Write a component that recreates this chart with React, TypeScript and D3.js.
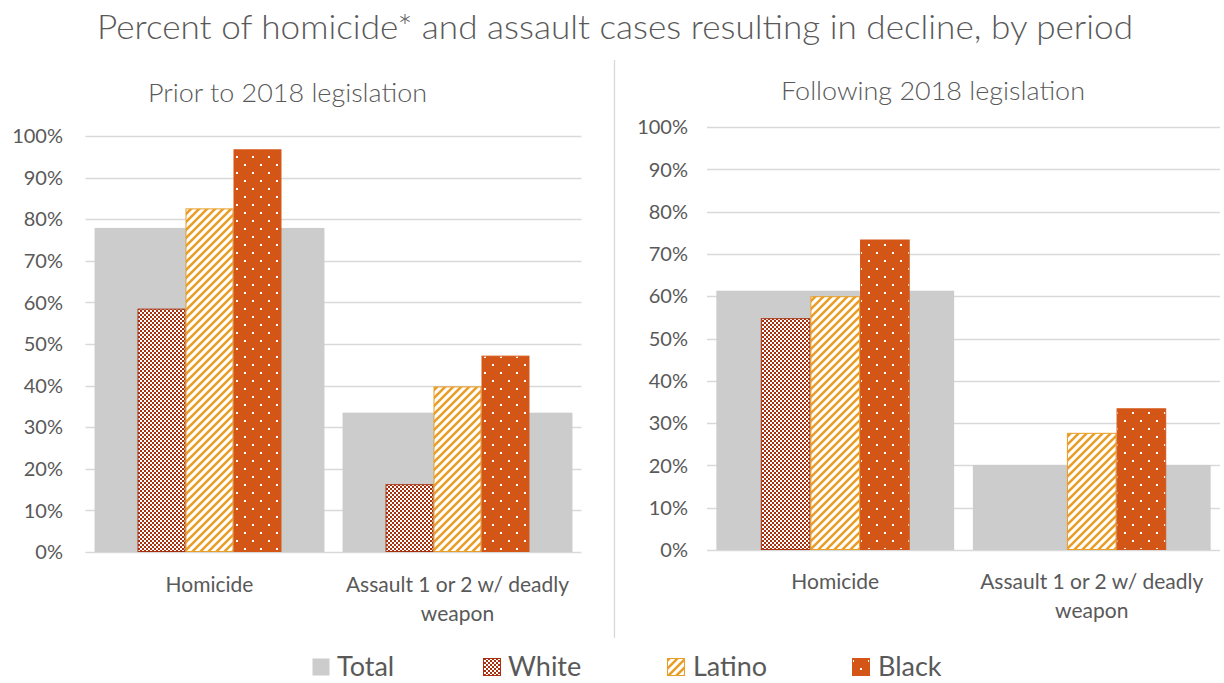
import React from "react";
import * as d3 from "d3";

const categories = ["Homicide", "Assault 1 or 2 w/ deadly weapon"];
const categoryLines = [["Homicide"], ["Assault 1 or 2 w/ deadly", "weapon"]];
const seriesNames = ["White", "Latino", "Black"];
const legendNames = ["Total", "White", "Latino", "Black"];
const tickValues = [0, 10, 20, 30, 40, 50, 60, 70, 80, 90, 100];

const priorTotal = [77.9, 33.5];
const priorWhite = [58.5, 16.3];
const priorLatino = [82.6, 39.8];
const priorBlack = [96.8, 47.2];

const followTotal = [61.3, 20.1];
const followWhite = [54.8, 0];
const followLatino = [60.0, 27.7];
const followBlack = [73.4, 33.5];

const TITLE = "Percent of homicide* and assault cases resulting in decline, by period";
const PANEL_TITLES = ["Prior to 2018 legislation", "Following 2018 legislation"];

const COLORS: Record<string, string> = {
  Total: "#cccccc",
  White: "#a8320f",
  Latino: "#e99e27",
  Black: "#d45617",
};
const FILLS: Record<string, string> = {
  Total: "#cccccc",
  White: "url(#pWhite)",
  Latino: "url(#pLatino)",
  Black: "url(#pBlack)",
};
const FONT = "Lato, 'Open Sans', sans-serif";
const TXT = "#595959";

type PanelSpec = {
  title: string;
  titleY: number;
  titleLen: number;
  titleX: number;
  left: number;
  right: number;
  yTop: number;
  yBottom: number;
  tickRight: number;
  catY: number;
  total: number[];
  groups: number[][];
};

const panels: PanelSpec[] = [
  {
    title: PANEL_TITLES[0],
    titleX: 287.5,
    titleY: 102,
    titleLen: 279,
    left: 85.5,
    right: 581.5,
    yTop: 136,
    yBottom: 552,
    tickRight: 63,
    catY: 584,
    total: priorTotal,
    groups: [priorWhite, priorLatino, priorBlack],
  },
  {
    title: PANEL_TITLES[1],
    titleX: 933,
    titleY: 100,
    titleLen: 304,
    left: 707,
    right: 1220,
    yTop: 127,
    yBottom: 550,
    tickRight: 688,
    catY: 581,
    total: followTotal,
    groups: [followWhite, followLatino, followBlack],
  },
];

function Panel({ p }: { p: PanelSpec }) {
  const x0 = d3.scaleBand<string>().domain(categories).range([p.left, p.right]).padding(0);
  const y = d3.scaleLinear().domain([0, 100]).range([p.yBottom, p.yTop]);
  const bw = x0.bandwidth();
  const totalW = bw * 0.927;
  const barW = bw * 0.1935;
  const x1 = d3.scaleBand<string>().domain(seriesNames).range([-1.5 * barW, 1.5 * barW]).padding(0);
  return (
    <g>
      <text x={p.titleX} y={p.titleY} textAnchor="middle" fontSize={26} fontWeight={300} fill={TXT} fontFamily={FONT}
        textLength={p.titleLen} lengthAdjust="spacingAndGlyphs">{p.title}</text>
      {tickValues.map((t) => (
        <g key={t}>
          <line x1={p.left} x2={p.right} y1={Math.round(y(t)) + 0.5} y2={Math.round(y(t)) + 0.5}
            stroke="#d9d9d9" strokeWidth={1.3} />
          <text x={p.tickRight} y={y(t)} dy="0.36em" textAnchor="end" fontSize={20} fill={TXT} fontFamily={FONT}>
            {t + "%"}
          </text>
        </g>
      ))}
      {categories.map((c, i) => {
        const cx = (x0(c) as number) + bw / 2;
        return (
          <g key={c}>
            <rect x={cx - totalW / 2} y={y(p.total[i])} width={totalW} height={y(0) - y(p.total[i])}
              fill={COLORS.Total} />
            {seriesNames.map((s, j) => {
              const v = p.groups[j][i];
              if (!v) return null;
              const bx = cx + (x1(s) as number);
              return (
                <rect key={s} x={bx + 0.5} y={y(v) + 0.5} width={barW - 1} height={y(0) - y(v) - 1}
                  fill={FILLS[s]} stroke={COLORS[s]} strokeWidth={1} />
              );
            })}
            {categoryLines[i].map((ln, k) => (
              <text key={k} x={cx} y={p.catY + k * 29} dy="0.36em" textAnchor="middle" fontSize={21}
                fill={TXT} fontFamily={FONT}>{ln}</text>
            ))}
          </g>
        );
      })}
    </g>
  );
}

const legendSquareX = [312, 483, 667, 852];
const legendTextX = [337, 508, 693, 878];

export default function App() {
  return (
    <svg width={1224} height={683} style={{ position: "absolute", left: 0, top: 0, background: "#fff" }}>
      <defs>
        <pattern id="pWhite" width={4} height={4} patternUnits="userSpaceOnUse">
          <rect width={4} height={4} fill={COLORS.White} />
          <rect x={0} y={0} width={2} height={2} fill="#fff" />
          <rect x={2} y={2} width={2} height={2} fill="#fff" />
        </pattern>
        <pattern id="pLatino" width={8} height={8} patternUnits="userSpaceOnUse">
          <rect width={8} height={8} fill="#fff" />
          <path d="M-2,2 L2,-2 M0,8 L8,0 M6,10 L10,6" stroke={COLORS.Latino} strokeWidth={2.6} />
        </pattern>
        <pattern id="pBlack" width={16} height={16} patternUnits="userSpaceOnUse">
          <rect width={16} height={16} fill={COLORS.Black} />
          <rect x={4} y={4} width={2} height={2} fill="#fff" />
          <rect x={12} y={12} width={2} height={2} fill="#fff" />
        </pattern>
      </defs>
      <rect width={1224} height={683} fill="#fff" />
      <text x={615} y={39} textAnchor="middle" fontSize={33} fontWeight={300} fill={TXT} fontFamily={FONT}
        textLength={1036} lengthAdjust="spacingAndGlyphs">{TITLE}</text>
      <line x1={614.5} x2={614.5} y1={60} y2={638} stroke="#d9d9d9" strokeWidth={1.3} />
      {panels.map((p, i) => <Panel key={i} p={p} />)}
      {legendNames.map((n, i) => (
        <g key={n}>
          <rect x={legendSquareX[i] + 0.5} y={658.5} width={17} height={17} fill={FILLS[n]}
            stroke={n === "Total" ? "none" : COLORS[n]} strokeWidth={1} />
          <text x={legendTextX[i]} y={666} dy="0.36em" fontSize={27} fill={TXT} fontFamily={FONT}>{n}</text>
        </g>
      ))}
    </svg>
  );
}
